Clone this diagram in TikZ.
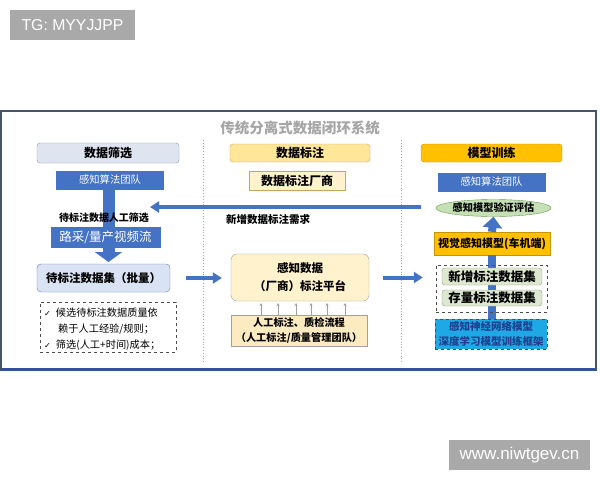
\documentclass[tikz,border=0pt]{standalone}
\usepackage{fontspec}
\setmainfont{Noto Sans CJK SC}
\newfontfamily\latinf{Liberation Sans}
\newfontfamily\symf{DejaVu Sans}
\usetikzlibrary{arrows.meta,shapes.geometric}
\definecolor{bblue}{HTML}{4472C4}
\definecolor{frameC}{HTML}{44546A}
\definecolor{botC}{HTML}{2F5597}
\definecolor{sepC}{HTML}{8FAADC}
\definecolor{titleC}{HTML}{A6A6A6}
\definecolor{hOneF}{HTML}{DEE5F0}
\definecolor{hOneD}{HTML}{8C9BB5}
\definecolor{dsF}{HTML}{DAE3F3}
\definecolor{dsD}{HTML}{5A7EC0}
\definecolor{yelF}{HTML}{FFE699}
\definecolor{yelD}{HTML}{C9A55B}
\definecolor{ltyF}{HTML}{FFF2CC}
\definecolor{qcF}{HTML}{FCEBC0}
\definecolor{grayD}{HTML}{A0A0A0}
\definecolor{goldF}{HTML}{FFC000}
\definecolor{goldD}{HTML}{C79500}
\definecolor{ellF}{HTML}{C5E0B4}
\definecolor{ellD}{HTML}{6E9A5A}
\definecolor{grF}{HTML}{DDE8D0}
\definecolor{grD}{HTML}{8FA080}
\definecolor{cyF}{HTML}{1FA8E6}
\definecolor{cyT}{HTML}{1F3F8F}
\definecolor{wmF}{HTML}{A9A9A9}
\tikzset{
  box/.style={draw, inner sep=0pt, align=center},
  hdr/.style={box, rounded corners=3pt, font=\fontsize{12}{14}\selectfont\bfseries},
  bluebox/.style={box, fill=bblue, draw=bblue, text=white, font=\fontsize{10.3}{12}\selectfont},
  lbl/.style={inner sep=0pt, font=\fontsize{10}{12}\selectfont\bfseries},
  fatarrow/.style={draw=bblue, line width=4pt, -{Triangle[width=11pt,length=9pt]}},
  wm/.style={fill=wmF, text=white, inner sep=0pt, font=\latinf\fontsize{15.8}{18}\selectfont},
  upar/.style={draw=grayD, line width=0.5pt, -{Stealth[width=3pt,length=3pt]}},
  notetxt/.style={anchor=west, inner sep=0pt, font=\fontsize{10.2}{12}\selectfont}
}
\begin{document}
\begin{tikzpicture}[x=1pt,y=-1pt]
\useasboundingbox (0,0) rectangle (600,480);
\fill[white] (0,0) rectangle (600,480);
% watermarks
\node[wm, minimum width=125pt, minimum height=30pt] (wmA) at (72.5,25) {TG: MYYJJPP};
\node[wm, minimum width=141pt, minimum height=30pt, font=\latinf\fontsize{17}{18}\selectfont] (wmB) at (519.5,455) {www.niwtgev.cn};
% frame
\draw[frameC, line width=1.2pt] (1,111) rectangle (596,370);
\draw[botC, line width=3pt] (1,369) -- (596,369);
\node[inner sep=0pt, text=titleC, font=\fontsize{14.5}{16}\selectfont\bfseries] (title) at (300,128) {传统分离式数据闭环系统};
% separators
\draw[sepC, dotted, line width=0.8pt] (203,140) -- (203,362);
\draw[sepC, dotted, line width=0.8pt] (401,140) -- (401,362);

% ---- column 1
\node[hdr, fill=hOneF, draw=hOneD, minimum width=142pt, minimum height=20pt] (h1) at (108,153) {数据筛选};
\node[bluebox, minimum width=107pt, minimum height=18pt] (t1) at (110,180) {感知算法团队};
\node[box, rounded corners=4pt, fill=dsF, draw=dsD, minimum width=133pt, minimum height=28pt, font=\fontsize{11.5}{13}\selectfont\bfseries] (ds) at (103.5,278) {待标注数据集（批量）};
\coordinate (v1a) at (108.5,189);
\coordinate (v1b) at (108.5,262);
\draw[draw=bblue, line width=12pt, -{Triangle[width=27pt,length=10pt]}] (v1a) -- (v1b);
\node[bluebox, minimum width=109pt, minimum height=20pt, font=\fontsize{12.5}{14}\selectfont] (r1) at (105.5,237) {路采/量产视频流};
\node[lbl] (l1) at (104,218) {待标注数据人工筛选};
\node[box, dashed, draw=black!70, minimum width=136pt, minimum height=50pt] (note) at (108,327) {};
\node[notetxt] (n1) at (44,313) {{\symf\fontsize{8}{10}\selectfont ✓}\hspace{5pt}候选待标注数据质量依};
\node[notetxt] (n2) at (58,329) {赖于人工经验/规则；};
\node[notetxt] (n3) at (44,345) {{\symf\fontsize{8}{10}\selectfont ✓}\hspace{5pt}筛选(人工+时间)成本；};

% ---- column 2
\node[hdr, fill=yelF, draw=yelD, minimum width=140pt, minimum height=18pt] (h2) at (300,153) {数据标注};
\node[box, fill=ltyF, draw=yelD, minimum width=96pt, minimum height=19pt, font=\fontsize{12}{14}\selectfont\bfseries] (v2) at (297,180.5) {数据标注厂商};
\node[lbl, anchor=west, font=\fontsize{10.5}{12}\selectfont\bfseries] (l2) at (226,219) {新增数据标注需求};
\node[box, rounded corners=6pt, fill=ltyF, draw=grayD, minimum width=138pt, minimum height=47pt, font=\fontsize{11.5}{18}\selectfont\bfseries] (plat) at (300,277.5) {感知数据\\（厂商）标注平台};
\node[box, fill=qcF, draw=grayD, minimum width=136pt, minimum height=31pt, font=\fontsize{10.2}{15.5}\selectfont\bfseries] (qc) at (299,330.5) {人工标注、质检流程\\（人工标注/质量管理团队）};
\foreach \xx in {261,278,296,311,327,345}{
  \draw[upar] (\xx,315) -- (\xx,303);
}

% ---- column 3
\node[hdr, fill=goldF, draw=goldD, minimum width=141pt, minimum height=18pt] (h3) at (491.5,153) {模型训练};
\node[bluebox, minimum width=107pt, minimum height=18pt] (t3) at (491.5,182) {感知算法团队};
\node[ellipse, draw=ellD, fill=ellF, inner sep=0pt, minimum width=108pt, minimum height=17pt, font=\fontsize{10.2}{12}\selectfont\bfseries] (ell) at (493.5,208) {感知模型验证评估};
\node[box, fill=cyF, draw=black!70, dashed, minimum width=112pt, minimum height=30pt, text=cyT, font=\fontsize{10.5}{15}\selectfont\bfseries] (cy) at (491,334) {感知神经网络模型\\深度学习模型训练框架};
\node[box, fill=goldF, draw=goldD, minimum width=116pt, minimum height=23pt, font=\fontsize{11}{13}\selectfont\bfseries] (vis) at (492,243.5) {视觉感知模型(车机端)};
\draw[draw=bblue, line width=8pt] (cy.north -| vis.south) -- (vis.south);
\draw[draw=bblue, line width=8pt, -{Triangle[width=19pt,length=11pt]}] (vis.north) -- (ell.south);
\node[box, dashed, draw=black!70, minimum width=111pt, minimum height=47pt] (dbox) at (491.5,288.5) {};
\node[box, rounded corners=3pt, fill=grF, draw=grD, minimum width=100pt, minimum height=17pt, font=\fontsize{12.5}{14}\selectfont\bfseries] (g1) at (492,276.5) {新增标注数据集};
\node[box, rounded corners=3pt, fill=grF, draw=grD, minimum width=100pt, minimum height=16pt, font=\fontsize{12.5}{14}\selectfont\bfseries] (g2) at (492,298) {存量标注数据集};

% ---- connectors
\coordinate (fbA) at (421,207);
\coordinate (fbB) at (150,207);
\draw[fatarrow] (fbA) -- (fbB);
\draw[fatarrow, shorten <=16pt, shorten >=9pt] (ds.east) -- (ds.east -| plat.west);
\draw[fatarrow, shorten <=14pt, shorten >=13pt] (plat.east) -- (plat.east -| dbox.west);
\end{tikzpicture}
\end{document}
